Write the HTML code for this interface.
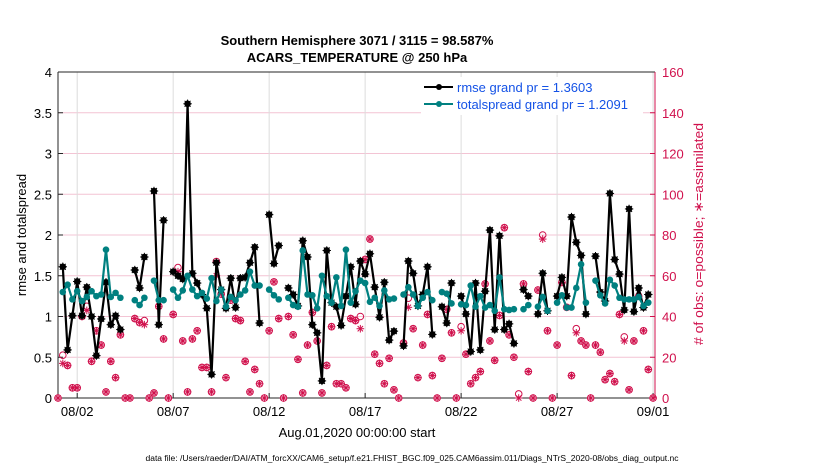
<!DOCTYPE html>
<html><head><meta charset="utf-8"><style>
body{margin:0;background:#fff;}
svg{display:block;font-family:"Liberation Sans",sans-serif;}
</style></head><body>
<svg id="chart" width="830" height="470" viewBox="0 0 830 470">
<g id="grid"></g>
<g id="axes"></g>
<g id="marks"></g>
<text x="357" y="45" text-anchor="middle" font-size="13" font-weight="bold">Southern Hemisphere 3071 / 3115 = 98.587%</text>
<text x="357" y="62" text-anchor="middle" font-size="13" font-weight="bold">ACARS_TEMPERATURE @ 250 hPa</text>
<text transform="translate(26,235) rotate(-90)" text-anchor="middle" font-size="13">rmse and totalspread</text>
<text transform="translate(703,234) rotate(-90)" text-anchor="middle" font-size="13" fill="#d0104c" textLength="222" lengthAdjust="spacingAndGlyphs"># of obs: o=possible; &#8727;=assimilated</text>
<text x="357" y="437" text-anchor="middle" font-size="13">Aug.01,2020 00:00:00 start</text>
<text x="412" y="461" text-anchor="middle" font-size="8" textLength="533" lengthAdjust="spacingAndGlyphs">data file: /Users/raeder/DAI/ATM_forcXX/CAM6_setup/f.e21.FHIST_BGC.f09_025.CAM6assim.011/Diags_NTrS_2020-08/obs_diag_output.nc</text>
<g>
<rect x="421" y="77" width="222" height="38" fill="#fff"/>
<line x1="424" y1="87" x2="453" y2="87" stroke="#000" stroke-width="2"/>
<circle cx="439" cy="87" r="3" fill="#000"/>
<text x="457" y="92" font-size="13" fill="#1452e6">rmse grand pr = 1.3603</text>
<line x1="424" y1="104" x2="453" y2="104" stroke="#008080" stroke-width="2"/>
<circle cx="439" cy="104" r="3" fill="#008080"/>
<text x="457" y="109" font-size="13" fill="#1452e6">totalspread grand pr = 1.2091</text>
</g>
</svg>
<script>
var rmse=[1.61,0.59,1.01,1.43,1.01,1.36,1.00,0.52,0.97,1.42,0.90,1.01,0.84,null,null,1.57,1.35,1.73,null,2.54,0.90,2.18,null,1.55,1.50,1.46,3.61,1.53,1.41,1.27,1.10,0.29,1.66,1.33,1.10,1.47,1.11,1.47,1.48,1.66,1.85,0.92,null,2.25,1.65,1.87,null,1.35,1.27,1.13,1.93,1.73,0.90,0.80,0.21,1.81,1.17,1.12,0.89,1.25,1.61,1.15,1.68,1.52,1.77,1.36,0.99,1.42,0.71,0.82,null,0.64,1.68,1.53,1.13,1.27,1.61,0.78,null,1.12,0.92,1.41,null,1.25,1.03,0.57,1.41,0.59,1.31,2.06,0.84,1.99,0.84,0.91,0.67,null,1.33,1.25,null,1.03,1.53,1.07,null,1.25,1.48,1.25,2.22,1.91,1.75,1.03,null,1.74,1.30,1.19,2.51,1.70,1.52,1.08,2.32,1.06,1.35,1.11,1.27];
var spread=[1.30,1.39,1.21,1.31,1.19,1.24,1.31,1.25,1.27,1.82,1.24,1.29,1.23,null,null,1.20,1.14,1.23,null,1.44,1.20,1.20,null,1.33,1.23,1.32,1.50,1.33,1.25,1.29,1.22,1.47,1.19,1.33,1.12,1.24,1.20,1.27,1.32,1.55,1.38,1.38,null,1.33,1.26,1.21,null,1.23,1.14,1.12,1.81,1.27,1.26,1.10,1.50,1.25,1.17,1.48,1.13,1.82,1.17,1.31,1.44,1.41,1.18,1.23,1.13,1.32,1.21,1.22,null,1.27,1.36,1.27,1.13,1.23,1.30,1.20,null,1.30,1.28,1.16,null,1.15,1.14,1.38,1.12,1.25,1.11,1.14,1.07,1.48,1.09,1.08,1.09,null,1.09,1.14,null,1.12,1.24,1.07,null,1.17,1.26,1.11,1.11,1.35,1.64,1.17,null,1.44,1.26,1.16,1.45,1.38,1.23,1.21,1.21,1.21,1.24,1.13,1.17];
var nPossible=[0,21,16,5,5,40,45,18,33,26,3,18,10,31,0,0,39,37,38,0,2.5,45,29,0,41,64,28,3,29,33,15,15,3,67,51,10,48,39,38,18,3,14,7,0,33,57,39,0,40,31,19,2.5,26,42,28,2.5,16,35,7,7,5,39,38,40,68,78,21.5,17,7,19.5,4,0,27,49,34,10,26,41,11,0,19.5,43.5,32,0,35,21.5,7,10,13,56,28,18.5,40.5,83.6,31,20,2,56,13,0,53,80,33,0,26,56.7,44.5,11,34,28,26,0,26,22.5,9,12,8,41,30,4,28,50,33,14,0];
var nAssim=[0,17,16,5,5,40,43,18,33,26,3,18,10,31,0,0,39,37,36,0,2.5,45,29,0,41,62,28,3,29,33,15,15,3,60,51,10,48,39,38,18,3,14,7,0,33,57,39,0,40,31,19,2.5,26,42,28,2.5,16,35,7,7,5,39,38,34,68,78,21.5,17,7,19.5,4,0,27,44.5,34,10,26,41,11,0,19.5,43.5,32,0,33,21.5,7,10,13,56,28,18.5,40.5,83.6,31,20,0,56,13,0,53,78,33,0,26,56.7,44.5,11,32,28,26,0,26,22.5,9,12,8,41,28,4,28,50,33,14,0];
var xTickDays=[1,6,11,16,21,26,31];
var xTickLabels=["08/02","08/07","08/12","08/17","08/22","08/27","09/01"];
var yTicks=[0,0.5,1,1.5,2,2.5,3,3.5,4];
var yTickLabels=["0","0.5","1","1.5","2","2.5","3","3.5","4"];
var y2Ticks=[0,20,40,60,80,100,120,140,160];

var L=58,R=655,T=72,B=398,DMAX=31.1;
function xs(d){return L+d*(R-L)/DMAX;}
function ys(v){return B-v*(B-T)/4;}
function ys2(v){return B-v*(B-T)/160;}
var NS="http://www.w3.org/2000/svg";
function mk(tag,at,parent){var e=document.createElementNS(NS,tag);for(var k in at)e.setAttribute(k,at[k]);parent.appendChild(e);return e;}
var grid=document.getElementById('grid'),axes=document.getElementById('axes'),marks=document.getElementById('marks');
var CR="#d0104c";
y2Ticks.forEach(function(v){var l=mk('line',{x1:L,x2:R,y1:ys2(v),y2:ys2(v),stroke:'#f3c4d4','stroke-width':1},grid);

});
xTickDays.forEach(function(d,i){var l=mk('line',{x1:xs(d),x2:xs(d),y1:T,y2:B,stroke:'#dcdcdc','stroke-width':1},grid);


var t=mk('text',{x:xs(d),y:416,'text-anchor':'middle','font-size':13},axes);t.textContent=xTickLabels[i];


mk('line',{x1:xs(d),x2:xs(d),y1:B,y2:B-5,stroke:'#262626'},axes);});
yTicks.forEach(function(v,i){var t=mk('text',{x:52,y:ys(v)+5,'text-anchor':'end','font-size':13},axes);t.textContent=yTickLabels[i];


mk('line',{x1:L,x2:L+5,y1:ys(v),y2:ys(v),stroke:'#262626'},axes);});
y2Ticks.forEach(function(v){var t=mk('text',{x:662,y:ys2(v)+5,'font-size':13,fill:CR},axes);t.textContent=String(v);


mk('line',{x1:R-5,x2:R,y1:ys2(v),y2:ys2(v),stroke:CR},axes);});
mk('line',{x1:L,x2:L,y1:T,y2:B,stroke:'#262626'},axes);
mk('line',{x1:L,x2:R,y1:B,y2:B,stroke:'#262626'},axes);
mk('line',{x1:L,x2:R,y1:T,y2:T,stroke:'#262626'},axes);
mk('line',{x1:R,x2:R,y1:T,y2:B,stroke:CR},axes);

function star(cx,cy,r,col,g){for(var a=0;a<4;a++){var an=a*Math.PI/4;mk('line',{x1:cx-r*Math.cos(an),y1:cy-r*Math.sin(an),x2:cx+r*Math.cos(an),y2:cy+r*Math.sin(an),stroke:col,'stroke-width':1},g);}}
nPossible.forEach(function(v,j){var d=j*0.25;var c=mk('circle',{cx:xs(d),cy:ys2(v),r:3.3,fill:'none',stroke:CR,'stroke-width':1},marks);

});
nAssim.forEach(function(v,j){var d=j*0.25;var g=mk('g',{},marks);


star(xs(d),ys2(v),3.8,CR,g);});
function series(arr,col,name,isStar){var g=mk('g',{},marks);


var pts=[];function flush(){if(pts.length>1){mk('polyline',{points:pts.join(' '),fill:'none',stroke:col,'stroke-width':2.2,'stroke-linejoin':'round'},g);}pts=[];}
arr.forEach(function(v,i){if(v===null){flush();return;}pts.push(xs((i+1)*0.25)+','+ys(v));});flush();
arr.forEach(function(v,i){if(v===null)return;var c=mk('circle',{cx:xs((i+1)*0.25),cy:ys(v),r:3.3,fill:col},g);


if(isStar)star(xs((i+1)*0.25),ys(v),4.2,col,g);});}
series(rmse,'#000','rmse',true);
series(spread,'#008080','totalspread',false);
</script>
</body></html>
